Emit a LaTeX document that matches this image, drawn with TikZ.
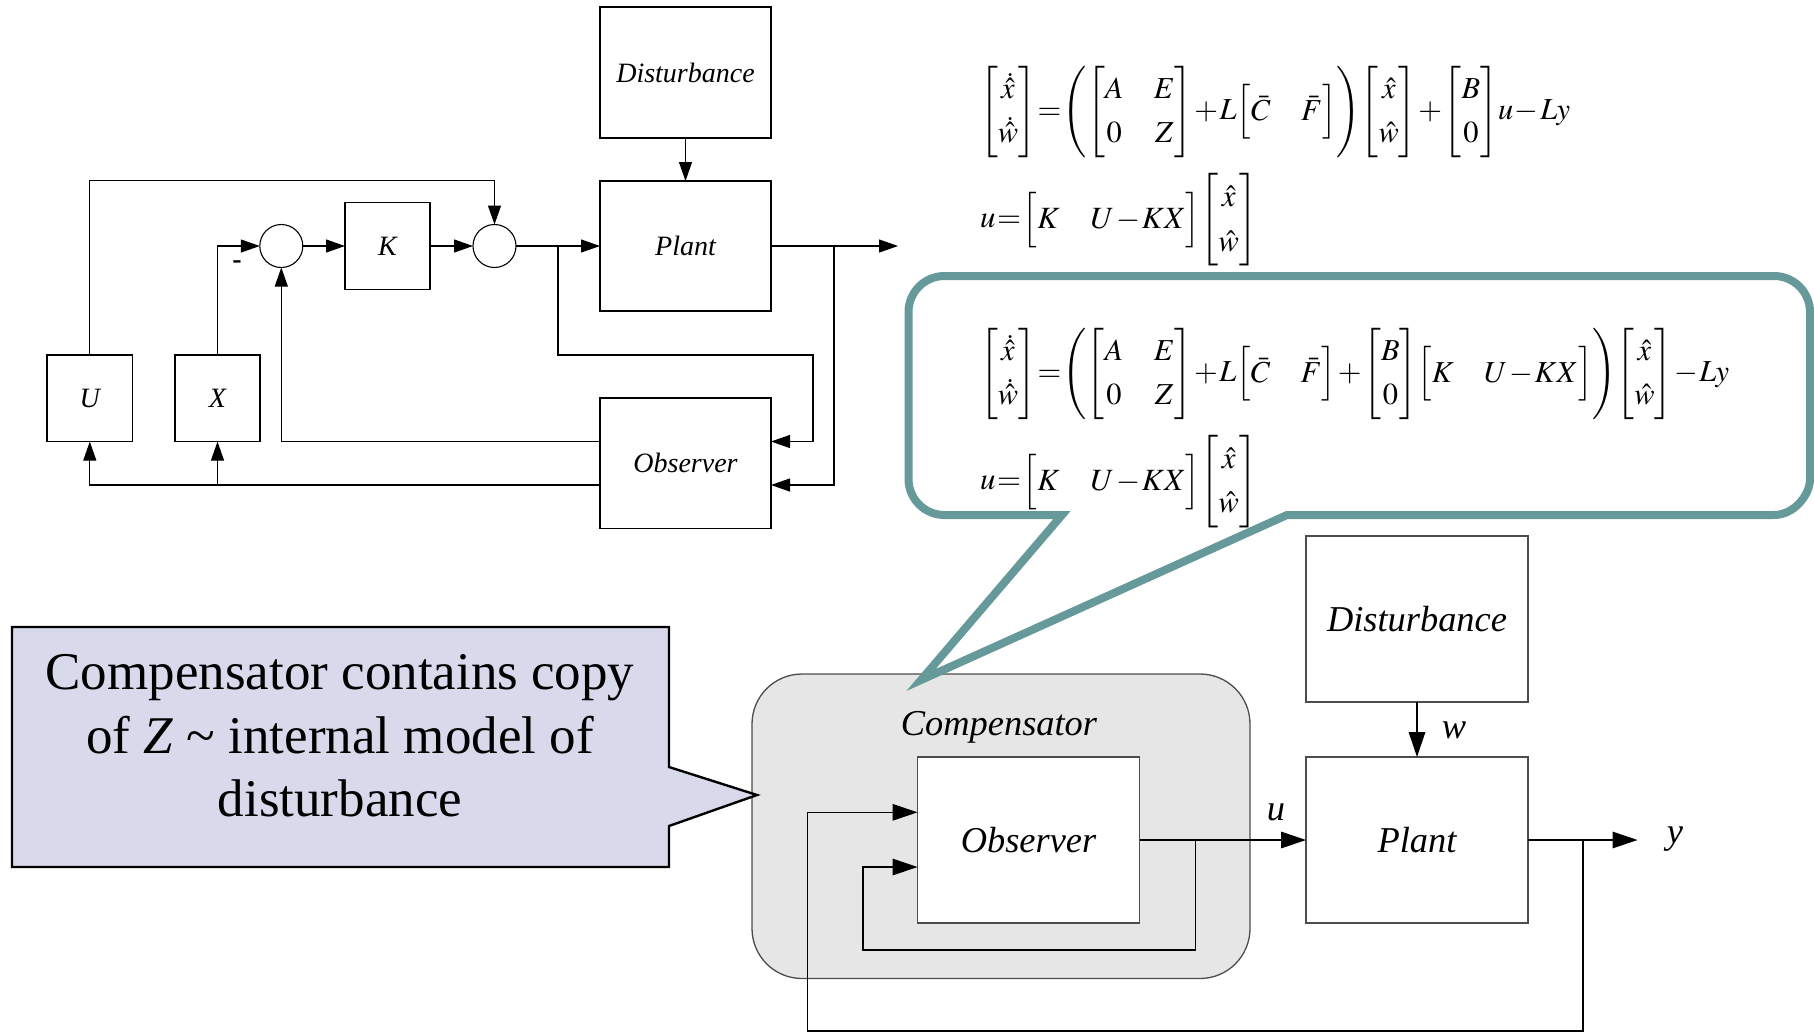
\documentclass[tikz,border=0pt]{standalone}
\usepackage{amsmath}
\usepackage{mathptmx}
\usepackage[no-math]{fontspec}
\setmainfont{Liberation Serif}
\usepackage{graphicx}
\usetikzlibrary{arrows.meta}
\definecolor{tealc}{RGB}{102,153,153}
\definecolor{lavc}{RGB}{217,217,236}
\definecolor{compfill}{RGB}{230,230,230}
\newcommand{\vxw}{\left[\begin{array}{@{\,}c@{\,}}\hat{x}\\ \hat{w}\end{array}\right]}
\newcommand{\vdxw}{\left[\begin{array}{@{\,}c@{\,}}\dot{\hat{x}}\\ \dot{\hat{w}}\end{array}\right]}
\newcommand{\mAEZ}{\left[\begin{array}{@{}c@{\quad}c@{}}A & E\\ 0 & Z\end{array}\right]}
\newcommand{\mCF}{\left[\begin{array}{@{\,}c@{\quad}c@{\,}}\bar{C} & \bar{F}\end{array}\right]}
\newcommand{\mKU}{\left[\begin{array}{@{}c@{\quad}c@{}}K & U-KX\end{array}\right]}
\newcommand{\vBz}{\left[\begin{array}{@{}c@{}}B\\ 0\end{array}\right]}
\newcommand{\tightmath}{\thickmuskip=1mu\medmuskip=1mu\thinmuskip=0mu}
\renewcommand{\arraystretch}{1.2}
\begin{document}
\begin{tikzpicture}[x=0.5pt,y=-0.5pt,
  every node/.style={inner sep=0pt, outer sep=0pt},
  tbox/.style={draw=black, line width=0.55pt, fill=white, font=\fontsize{14}{17}\selectfont\itshape},
  bbox/.style={draw=black!70, line width=0.65pt, fill=white, minimum width=111pt, minimum height=83pt, font=\fontsize{18.2}{22}\selectfont\itshape},
  tline/.style={draw=black, line width=0.55pt},
  tarr/.style={tline, -{Triangle[length=9.5pt,width=6.5pt]}},
  bline/.style={draw=black, line width=0.6pt},
  barr/.style={bline, -{Triangle[length=12.5pt,width=8.3pt]}},
  sumc/.style={circle, draw=black, line width=0.55pt, fill=white, minimum size=21.5pt},
  blab/.style={font=\fontsize{18.2}{22}\selectfont\itshape},
  eqn/.style={anchor=west},
]
\useasboundingbox (0,0) rectangle (1814,1034);

% ---------- top block diagram ----------
\node[tbox, minimum width=85.5pt, minimum height=65.5pt] (dist1) at (685.5,72.5) {Disturbance};
\node[tbox, minimum width=85.5pt, minimum height=65pt] (plant1) at (685.5,246) {Plant};
\node[tbox, minimum width=85.5pt, minimum height=65.3pt] (obs1) at (685.5,463.3) {Observer};
\node[tbox, minimum width=42.5pt, minimum height=43.5pt] (K) at (387.5,246) {K};
\node[tbox, minimum width=42.8pt, minimum height=43.3pt] (U) at (89.8,398.3) {U};
\node[tbox, minimum width=42.5pt, minimum height=43.3pt] (X) at (217.5,398.3) {X};
\node[sumc] (s1) at (281.3,246) {};
\node[sumc] (s2) at (494.5,246) {};
\node[font=\bfseries\fontsize{14}{17}\selectfont] (minus) at (237,265) {-};

\coordinate (b1) at (558,246);
\coordinate (b2) at (834,246);
\coordinate (out1) at (898,246);
\coordinate (o1in1) at (813,441.5);
\coordinate (o1in2) at (834,485);
\coordinate (top1) at (300,180.6);

\draw[tarr] (dist1) -- (plant1);
\draw[tarr] (s1) -- (K);
\draw[tarr] (K) -- (s2);
\draw[tarr] (s2) -- (plant1);
\draw[tarr] (plant1) -- (out1);
\draw[tarr] (b1) -- (558,355) -- (813,355) -- (o1in1) -- (o1in1 -| obs1.east);
\draw[tarr] (b2) -- (o1in2) -- (o1in2 -| obs1.east);
\draw[tarr] (o1in1 -| obs1.west) -| (s1.south);
\draw[tarr] (o1in2 -| obs1.west) -| (U.south);
\draw[tarr] (X.south |- o1in2) -- (X.south);
\draw[tarr] (U.north) -- (U.north |- top1) -| (s2.north);
\draw[tarr] (X.north) |- (s1.west);

% ---------- equations (top) ----------
\node[eqn] (eq1) at (980,112) {\resizebox{295pt}{!}{$\tightmath\displaystyle \vdxw=\left(\mAEZ+L\mCF\right)\vxw+\vBz u-Ly$}};
\node[eqn] (eq2) at (980,220) {\resizebox{138.5pt}{!}{$\tightmath\displaystyle u=\mKU\vxw$}};

% ---------- compensator ----------
\draw[draw=black!70, line width=0.65pt, fill=compfill, rounded corners=25pt] (752,674) rectangle (1250,978.5);
\node[blab, anchor=base] (complab) at (999,735) {Compensator};

% ---------- teal callout ----------
\draw[tealc, line width=4pt, line join=miter, fill=white]
  (1287,515) -- (1774,515) .. controls (1793.9,515) and (1810,495.1) .. (1810,479)
  -- (1810,312) .. controls (1810,292.1) and (1793.9,276) .. (1774,276)
  -- (944.5,276) .. controls (924.6,276) and (908.5,292.1) .. (908.5,312)
  -- (908.5,479) .. controls (908.5,498.9) and (924.6,515) .. (944.5,515)
  -- (1062,515) -- (921,680) -- cycle;
\node[eqn] (eq3) at (980,374) {\resizebox{374.5pt}{!}{$\tightmath\displaystyle \vdxw=\left(\mAEZ+L\mCF+\vBz\mKU\right)\vxw-Ly$}};
\node[eqn] (eq4) at (980,481.6) {\resizebox{138.5pt}{!}{$\tightmath\displaystyle u=\mKU\vxw$}};

% ---------- lavender callout ----------
\draw[fill=lavc, draw=black, line width=1.2pt, line join=miter]
  (12,627) -- (669,627) -- (669,767) -- (757,795) -- (669,826) -- (669,867) -- (12,867) -- cycle;
\node[align=center, font=\fontsize{26.5}{31.75}\selectfont] (note) at (340,736)
  {Compensator contains copy\\ of \textit{Z} \textasciitilde{} internal model of\\ disturbance};

% ---------- bottom block diagram ----------
\node[bbox] (obs2) at (1028.5,840) {Observer};
\node[bbox] (dist2) at (1417,619) {Disturbance};
\node[bbox] (plant2) at (1417,840) {Plant};

\coordinate (b3) at (1195.6,840);
\coordinate (c3) at (863,950);
\coordinate (i2) at (863,867);
\coordinate (b4) at (1583,840);
\coordinate (c4) at (807.3,1031);
\coordinate (i1) at (807.3,812.3);
\coordinate (out2) at (1637.5,840);

\draw[barr] (dist2) -- (plant2);
\draw[barr] (obs2) -- (plant2);
\draw[barr] (plant2) -- (out2);
\draw[barr] (b3) |- (c3) -- (i2) -- (i2 -| obs2.west);
\draw[barr] (b4) |- (c4) -- (i1) -- (i1 -| obs2.west);

\node[blab, anchor=base] (ulab) at (1276,820) {u};
\node[blab, anchor=base] (wlab) at (1454,738) {w};
\node[blab, anchor=base] (ylab) at (1675,843.5) {y};
\end{tikzpicture}
\end{document}
